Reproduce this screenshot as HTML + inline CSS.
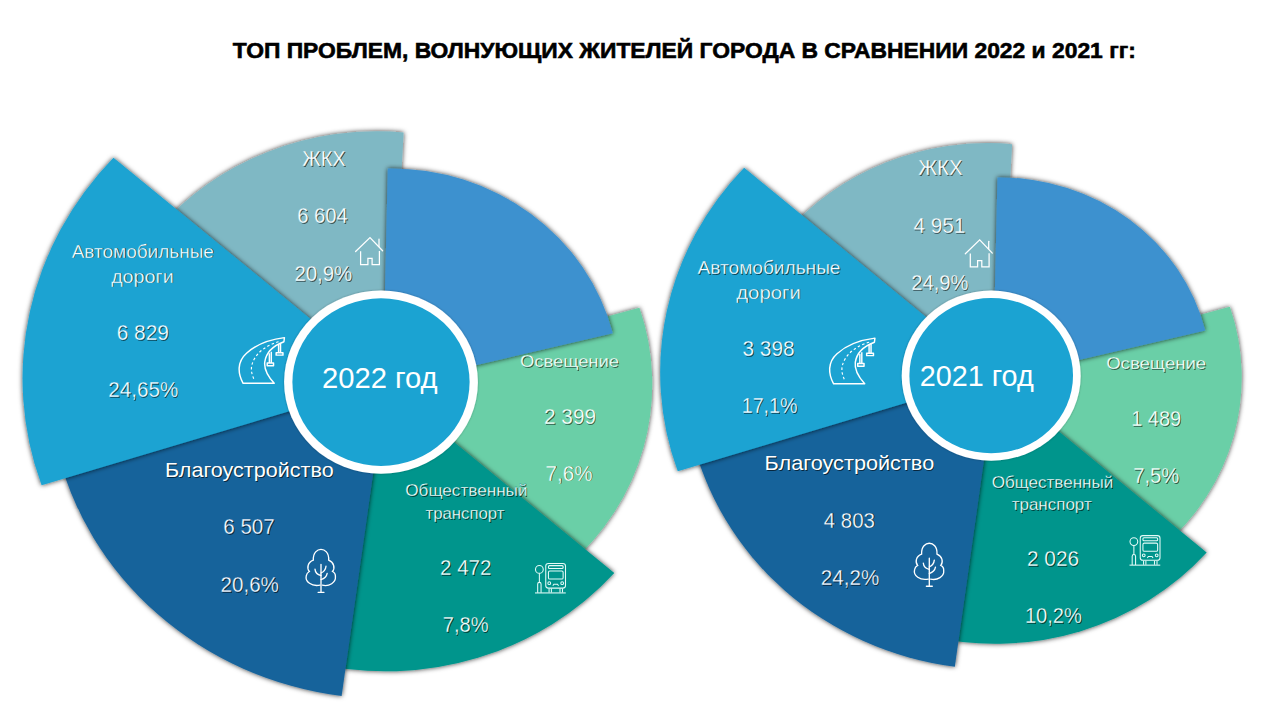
<!DOCTYPE html>
<html><head><meta charset="utf-8"><title>chart</title>
<style>
html,body{margin:0;padding:0;background:#fff;}
body{width:1280px;height:720px;overflow:hidden;position:relative;font-family:"Liberation Sans",sans-serif;}
svg{position:absolute;left:0;top:0;display:block}
svg text{font-family:"Liberation Sans",sans-serif;}
.lbl text,.ctr text{fill:#fff;text-anchor:middle;}
.lbl text{stroke-width:0.3px;paint-order:fill stroke;}
.lsh text{fill:#000;fill-opacity:.6;text-anchor:middle;}
.lsh{filter:blur(0.3px);}
</style></head><body>
<svg width="1280" height="720" viewBox="0 0 1280 720">
<defs>
<filter id="sh" x="-10%" y="-10%" width="120%" height="120%"><feDropShadow dx="0" dy="0" stdDeviation="2.7" flood-color="#000" flood-opacity="0.8"/></filter>
<filter id="sh2" x="-10%" y="-10%" width="120%" height="120%"><feDropShadow dx="0" dy="0" stdDeviation="1.2" flood-color="#000" flood-opacity="0.3"/></filter>
<g id="chart">
<path d="M380.5,378.0 L639.4,307.8 A260.7,246.6 0 0 1 567.1,566.4 Z" fill="#6acfa7" filter="url(#sh)"/>
<path d="M390.0,382.5 L157.2,229.4 A284.6,269.2 0 0 1 403.6,132.4 Z" fill="#7fb8c4" filter="url(#sh)"/>
<path d="M381.0,382.5 L614.3,573.0 A304.0,287.6 0 0 1 314.8,663.5 Z" fill="#03958c" filter="url(#sh)"/>
<path d="M386.0,382.5 L341.6,696.1 A338.1,319.9 0 0 1 56.5,446.3 Z" fill="#18639b" filter="url(#sh)"/>
<path d="M387.4,381.9 L41.6,485.2 A344.6,326.0 0 0 1 113.5,157.8 Z" fill="#1ba3d2" filter="url(#sh)"/>
<path d="M382.8,386.8 L387.8,168.4 A228.6,216.3 0 0 1 612.8,333.3 Z" fill="#3d91cf" filter="url(#sh)"/>
<ellipse cx="381" cy="382.1" rx="96.9" ry="91.7" fill="#fff" filter="url(#sh2)"/><ellipse cx="381" cy="382.1" rx="88.6" ry="83.8" fill="#1ba3d2"/>
</g>
</defs>
<text x="684.3" y="57.6" font-size="22.6" font-weight="bold" text-anchor="middle" textLength="903" lengthAdjust="spacingAndGlyphs" fill="#000" stroke="#000" stroke-width="0.6">ТОП ПРОБЛЕМ, ВОЛНУЮЩИХ ЖИТЕЛЕЙ ГОРОДА В СРАВНЕНИИ 2022 и 2021 гг:</text>
<use href="#chart"/>
<use href="#chart" transform="translate(991.20,376.00) scale(0.9235,0.9270) translate(-381.00,-382.50)"/>
<g class="ic">
<g id="house" fill="none" stroke="#fff" stroke-width="1.25" stroke-linecap="round" stroke-linejoin="miter"><path d="M355.6,251.5 L370,237.6 L382.6,250.8"/><path d="M379,239 V246.5"/><path d="M360.6,251.2 V264.6 H367.9 V258.3 H372.1 V264.6 H379.4 V251" stroke-linecap="butt"/></g><g id="road"><g transform="translate(230,325) scale(0.09718)"><g fill="none" stroke="#fff" stroke-width="15" stroke-linejoin="round">
<path d="M135,600 C80,500 70,380 170,290 S400,150 560,130 L555,172 C440,215 370,290 358,380 S400,540 455,600 Z"/>
<path d="M500,172 C400,200 300,260 250,350 S222,500 250,568" stroke-dasharray="26 24" stroke-width="12"/>
<path d="M500,195 V283 M520,190 V283 M475,285 h70 v25 h-70 z"/>
<path d="M405,290 V388 M425,275 V388 M383,390 h65 v30 h-65 z"/></g></g></g><g id="tree"><g transform="translate(295,540) scale(0.08333)"><g fill="none" stroke="#fff" stroke-width="16" stroke-linecap="round">
<path d="M300,542 C200,562 118,500 135,430 C140,400 155,386 172,378 C140,340 150,268 220,242 C215,150 270,112 312,112 C355,112 410,150 404,242 C470,268 482,340 450,378 C468,386 486,410 485,440 C492,510 410,562 328,542"/>
<path d="M312,292 V622 M277,628 H348"/>
<path d="M240,350 Q245,412 312,426 M372,315 Q366,372 312,396 M386,400 Q376,456 312,476"/></g></g></g><g id="bus"><g transform="translate(525,555) scale(0.06250)"><g fill="none" stroke="#e4fbf8" stroke-width="17">
<circle cx="230" cy="230" r="62"/><path d="M230,292 V440"/><path d="M203,605 V465 a27,27 0 0 1 54,0 V605"/><path d="M160,607 H652"/>
<rect x="332" y="135" width="316" height="395" rx="42"/><rect x="375" y="170" width="235" height="46" rx="16"/><rect x="375" y="255" width="235" height="130" rx="22"/>
<circle cx="388" cy="450" r="22"/><circle cx="595" cy="450" r="22"/><path d="M445,492 L462,468 H520 L537,492"/>
<path d="M385,535 V600 M422,535 V600 M560,535 V600 M600,535 V600"/></g></g></g><use href="#house" transform="translate(609.7,2.3)"/><use href="#road" transform="translate(590.5,0.5)"/><use href="#tree" transform="translate(608.3,-6.1)"/><use href="#bus" transform="translate(594.5,-27.8)"/>
</g>
<g class="lsh">
<text x="324.8" y="166.7" font-size="21.2" textLength="43.3" lengthAdjust="spacingAndGlyphs">ЖКХ</text>
<text x="323.4" y="224.2" font-size="21.2" textLength="50.5" lengthAdjust="spacingAndGlyphs">6 604</text>
<text x="324.2" y="281.6" font-size="21.2" textLength="57.8" lengthAdjust="spacingAndGlyphs">20,9%</text>
<text x="143.7" y="258.4" font-size="17.8" textLength="142.2" lengthAdjust="spacingAndGlyphs">Автомобильные</text>
<text x="143.3" y="283.4" font-size="17.8" textLength="62.5" lengthAdjust="spacingAndGlyphs">дороги</text>
<text x="143.7" y="340.5" font-size="21.2" textLength="52.2" lengthAdjust="spacingAndGlyphs">6 829</text>
<text x="144.2" y="397.9" font-size="21.2" textLength="70.0" lengthAdjust="spacingAndGlyphs">24,65%</text>
<text x="250.2" y="477.9" font-size="20.4" textLength="168.8" lengthAdjust="spacingAndGlyphs">Благоустройство</text>
<text x="249.9" y="535.3" font-size="21.2" textLength="51.4" lengthAdjust="spacingAndGlyphs">6 507</text>
<text x="250.6" y="592.9" font-size="21.2" textLength="58.3" lengthAdjust="spacingAndGlyphs">20,6%</text>
<text x="467.3" y="497.3" font-size="17.3" textLength="122.2" lengthAdjust="spacingAndGlyphs">Общественный</text>
<text x="465.9" y="519.5" font-size="17.3" textLength="78.8" lengthAdjust="spacingAndGlyphs">транспорт</text>
<text x="466.6" y="575.9" font-size="21.2" textLength="51.4" lengthAdjust="spacingAndGlyphs">2 472</text>
<text x="466.6" y="632.9" font-size="21.2" textLength="45.8" lengthAdjust="spacingAndGlyphs">7,8%</text>
<text x="570.4" y="367.6" font-size="17.3" textLength="99.0" lengthAdjust="spacingAndGlyphs">Освещение</text>
<text x="570.9" y="424.8" font-size="21.2" textLength="52.0" lengthAdjust="spacingAndGlyphs">2 399</text>
<text x="569.9" y="481.4" font-size="21.2" textLength="46.8" lengthAdjust="spacingAndGlyphs">7,6%</text>
<text x="941.3" y="175.9" font-size="21.2" textLength="44.2" lengthAdjust="spacingAndGlyphs">ЖКХ</text>
<text x="940.3" y="233.5" font-size="21.2" textLength="52.0" lengthAdjust="spacingAndGlyphs">4 951</text>
<text x="940.7" y="290.9" font-size="21.2" textLength="57.0" lengthAdjust="spacingAndGlyphs">24,9%</text>
<text x="769.9" y="274.6" font-size="17.8" textLength="143.0" lengthAdjust="spacingAndGlyphs">Автомобильные</text>
<text x="769.4" y="299.4" font-size="17.8" textLength="64.5" lengthAdjust="spacingAndGlyphs">дороги</text>
<text x="769.4" y="356.7" font-size="21.2" textLength="52.0" lengthAdjust="spacingAndGlyphs">3 398</text>
<text x="770.5" y="413.5" font-size="21.2" textLength="55.8" lengthAdjust="spacingAndGlyphs">17,1%</text>
<text x="850.3" y="470.9" font-size="20.4" textLength="169.6" lengthAdjust="spacingAndGlyphs">Благоустройство</text>
<text x="850.3" y="528.4" font-size="21.2" textLength="51.2" lengthAdjust="spacingAndGlyphs">4 803</text>
<text x="850.9" y="585.5" font-size="21.2" textLength="58.4" lengthAdjust="spacingAndGlyphs">24,2%</text>
<text x="1053.4" y="488.8" font-size="17.3" textLength="121.6" lengthAdjust="spacingAndGlyphs">Общественный</text>
<text x="1052.6" y="510.9" font-size="17.3" textLength="80.0" lengthAdjust="spacingAndGlyphs">транспорт</text>
<text x="1053.9" y="566.6" font-size="21.2" textLength="52.0" lengthAdjust="spacingAndGlyphs">2 026</text>
<text x="1054.3" y="623.5" font-size="21.2" textLength="57.0" lengthAdjust="spacingAndGlyphs">10,2%</text>
<text x="1157.2" y="370.1" font-size="17.3" textLength="100.0" lengthAdjust="spacingAndGlyphs">Освещение</text>
<text x="1157.2" y="426.9" font-size="21.2" textLength="50.0" lengthAdjust="spacingAndGlyphs">1 489</text>
<text x="1157.2" y="483.5" font-size="21.2" textLength="46.0" lengthAdjust="spacingAndGlyphs">7,5%</text>
</g>
<g class="lbl">
<text x="323.9" y="165.8" font-size="21.2" textLength="43.3" lengthAdjust="spacingAndGlyphs" stroke="#7fb8c4">ЖКХ</text>
<text x="322.5" y="223.3" font-size="21.2" textLength="50.5" lengthAdjust="spacingAndGlyphs" stroke="#7fb8c4">6 604</text>
<text x="323.3" y="280.7" font-size="21.2" textLength="57.8" lengthAdjust="spacingAndGlyphs" stroke="#7fb8c4">20,9%</text>
<text x="142.8" y="257.5" font-size="17.8" textLength="142.2" lengthAdjust="spacingAndGlyphs" stroke="#1ba3d2">Автомобильные</text>
<text x="142.4" y="282.5" font-size="17.8" textLength="62.5" lengthAdjust="spacingAndGlyphs" stroke="#1ba3d2">дороги</text>
<text x="142.8" y="339.6" font-size="21.2" textLength="52.2" lengthAdjust="spacingAndGlyphs" stroke="#1ba3d2">6 829</text>
<text x="143.3" y="397.0" font-size="21.2" textLength="70.0" lengthAdjust="spacingAndGlyphs" stroke="#1ba3d2">24,65%</text>
<text x="249.3" y="477.0" font-size="20.4" textLength="168.8" lengthAdjust="spacingAndGlyphs" stroke="none">Благоустройство</text>
<text x="249.0" y="534.4" font-size="21.2" textLength="51.4" lengthAdjust="spacingAndGlyphs" stroke="#18639b">6 507</text>
<text x="249.7" y="592.0" font-size="21.2" textLength="58.3" lengthAdjust="spacingAndGlyphs" stroke="#18639b">20,6%</text>
<text x="466.4" y="496.4" font-size="17.3" textLength="122.2" lengthAdjust="spacingAndGlyphs" stroke="#03958c">Общественный</text>
<text x="465.0" y="518.6" font-size="17.3" textLength="78.8" lengthAdjust="spacingAndGlyphs" stroke="#03958c">транспорт</text>
<text x="465.7" y="575.0" font-size="21.2" textLength="51.4" lengthAdjust="spacingAndGlyphs" stroke="#03958c">2 472</text>
<text x="465.7" y="632.0" font-size="21.2" textLength="45.8" lengthAdjust="spacingAndGlyphs" stroke="#03958c">7,8%</text>
<text x="569.5" y="366.7" font-size="17.3" textLength="99.0" lengthAdjust="spacingAndGlyphs" stroke="#6acfa7">Освещение</text>
<text x="570.0" y="423.9" font-size="21.2" textLength="52.0" lengthAdjust="spacingAndGlyphs" stroke="#6acfa7">2 399</text>
<text x="569.0" y="480.5" font-size="21.2" textLength="46.8" lengthAdjust="spacingAndGlyphs" stroke="#6acfa7">7,6%</text>
<text x="940.4" y="175.0" font-size="21.2" textLength="44.2" lengthAdjust="spacingAndGlyphs" stroke="#7fb8c4">ЖКХ</text>
<text x="939.4" y="232.6" font-size="21.2" textLength="52.0" lengthAdjust="spacingAndGlyphs" stroke="#7fb8c4">4 951</text>
<text x="939.8" y="290.0" font-size="21.2" textLength="57.0" lengthAdjust="spacingAndGlyphs" stroke="#7fb8c4">24,9%</text>
<text x="769.0" y="273.8" font-size="17.8" textLength="143.0" lengthAdjust="spacingAndGlyphs" stroke="#1ba3d2">Автомобильные</text>
<text x="768.5" y="298.5" font-size="17.8" textLength="64.5" lengthAdjust="spacingAndGlyphs" stroke="#1ba3d2">дороги</text>
<text x="768.5" y="355.8" font-size="21.2" textLength="52.0" lengthAdjust="spacingAndGlyphs" stroke="#1ba3d2">3 398</text>
<text x="769.6" y="412.6" font-size="21.2" textLength="55.8" lengthAdjust="spacingAndGlyphs" stroke="#1ba3d2">17,1%</text>
<text x="849.4" y="470.0" font-size="20.4" textLength="169.6" lengthAdjust="spacingAndGlyphs" stroke="none">Благоустройство</text>
<text x="849.4" y="527.5" font-size="21.2" textLength="51.2" lengthAdjust="spacingAndGlyphs" stroke="#18639b">4 803</text>
<text x="850.0" y="584.6" font-size="21.2" textLength="58.4" lengthAdjust="spacingAndGlyphs" stroke="#18639b">24,2%</text>
<text x="1052.5" y="487.9" font-size="17.3" textLength="121.6" lengthAdjust="spacingAndGlyphs" stroke="#03958c">Общественный</text>
<text x="1051.7" y="510.0" font-size="17.3" textLength="80.0" lengthAdjust="spacingAndGlyphs" stroke="#03958c">транспорт</text>
<text x="1053.0" y="565.7" font-size="21.2" textLength="52.0" lengthAdjust="spacingAndGlyphs" stroke="#03958c">2 026</text>
<text x="1053.4" y="622.6" font-size="21.2" textLength="57.0" lengthAdjust="spacingAndGlyphs" stroke="#03958c">10,2%</text>
<text x="1156.2" y="369.2" font-size="17.3" textLength="100.0" lengthAdjust="spacingAndGlyphs" stroke="#6acfa7">Освещение</text>
<text x="1156.2" y="426.0" font-size="21.2" textLength="50.0" lengthAdjust="spacingAndGlyphs" stroke="#6acfa7">1 489</text>
<text x="1156.2" y="482.6" font-size="21.2" textLength="46.0" lengthAdjust="spacingAndGlyphs" stroke="#6acfa7">7,5%</text>
</g>
<g class="ctr">
<text x="379.8" y="387.7" font-size="28.6" textLength="115.6" lengthAdjust="spacingAndGlyphs">2022 год</text>
<text x="976.7" y="385.6" font-size="28.6" textLength="114.0" lengthAdjust="spacingAndGlyphs">2021 год</text>
</g>
</svg>
</body></html>
